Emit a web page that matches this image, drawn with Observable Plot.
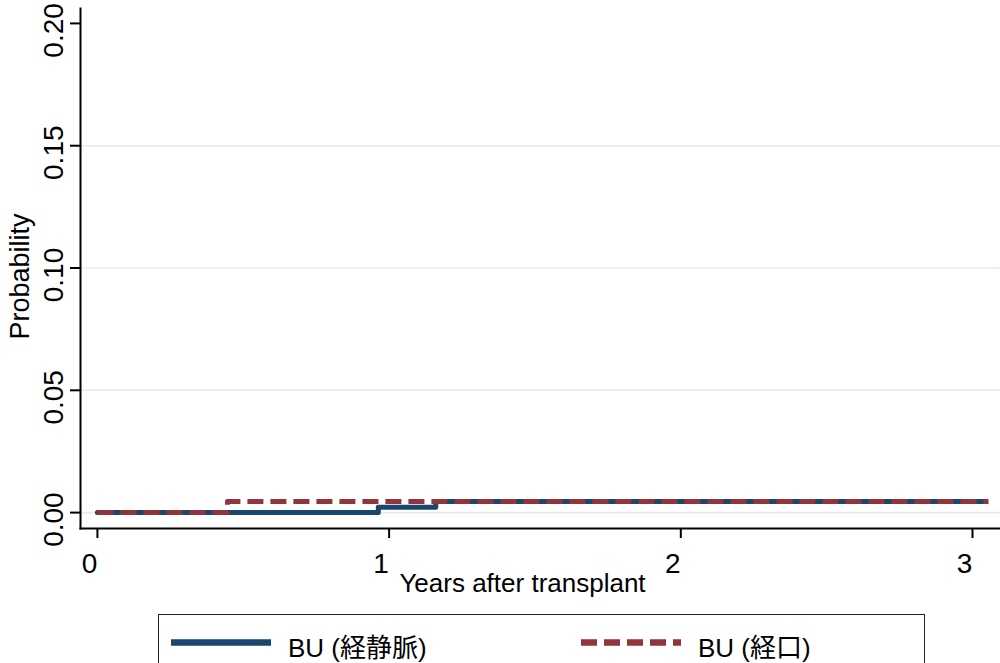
<!DOCTYPE html>
<html>
<head>
<meta charset="utf-8">
<script src="https://cdn.jsdelivr.net/npm/d3@7"></script>
<script src="https://cdn.jsdelivr.net/npm/@observablehq/plot@0.6"></script>
<style>
  html, body { margin: 0; padding: 0; background: #fff; overflow: hidden; }
  #wrap { position: relative; width: 1000px; height: 663px; font-family: "Liberation Sans", Arial, "Noto Sans CJK JP", sans-serif; }
  #chart svg { display: block; }
  #legend { position: absolute; left: 158px; top: 614px; width: 767px; height: 70px; border: 1.5px solid #222; box-sizing: border-box; background: #fff; }
  .item { position: absolute; top: 0; height: 60px; }
  .item svg { position: absolute; top: 24px; }
  .item span { position: absolute; top: 12px; font-size: 26px; white-space: nowrap; color: #000; font-family: "Liberation Sans", Arial, "Noto Sans CJK JP", sans-serif; }
</style>
</head>
<body>
<div id="wrap">
  <div id="chart"></div>
  <div id="legend"></div>
</div>
<script>
// ---- data ----
const seriesNames = ["BU (経静脈)", "BU (経口)"];
const seriesColors = ["#1a476f", "#90353b"];
const ivTime = [0, 0.963, 1.16, 3.04];
const ivProb = [0, 0.0022, 0.0045, 0.0045];
const oralTime = [0, 0.446, 3.055];
const oralProb = [0, 0.0045, 0.0045];
const xTicks = [0, 1, 2, 3];
const yTicks = [0, 0.05, 0.10, 0.15, 0.20];
const yGrid = [0, 0.05, 0.10, 0.15];
const xTitle = "Years after transplant";
const yTitle = "Probability";

const iv = ivTime.map((t, i) => ({t, p: ivProb[i]}));
const oral = oralTime.map((t, i) => ({t, p: oralProb[i]}));

const font = `"Liberation Sans", Arial, "Noto Sans CJK JP", sans-serif`;

const chart = Plot.plot({
  width: 1000,
  height: 600,
  marginLeft: 80,
  marginRight: 0,
  marginTop: 8,
  marginBottom: 72,
  style: {fontFamily: font, background: "#fff", color: "#000"},
  x: {domain: [-0.058, 3.096], axis: null},
  y: {domain: [-0.0065, 0.2061], axis: null},
  marks: [
    Plot.ruleY(yGrid, {stroke: "#e4ebee", strokeWidth: 1.6}),
    Plot.axisY({ticks: yTicks, tickSize: 10, tickFormat: () => "", strokeWidth: 2, label: null}),
    Plot.axisX({ticks: xTicks, tickSize: 10, tickFormat: () => "", strokeWidth: 2, label: null}),
    Plot.text(yTicks, {y: d => d, frameAnchor: "left", text: d => d3.format(".2f")(d), rotate: -90, textAnchor: "middle", lineAnchor: "bottom", dx: -18, dy: 7, fontSize: 28, fill: "#000"}),
    Plot.text(xTicks, {x: d => d, frameAnchor: "bottom", text: d => String(d), textAnchor: "middle", lineAnchor: "bottom", dx: -8, dy: 44, fontSize: 28, fill: "#000"}),
    Plot.text([yTitle], {frameAnchor: "left", text: d => d, rotate: -90, textAnchor: "middle", lineAnchor: "bottom", dx: -52, dy: 8, fontSize: 27, fill: "#000"}),
    Plot.text([xTitle], {frameAnchor: "bottom", text: d => d, textAnchor: "middle", lineAnchor: "bottom", dx: -18, dy: 63, fontSize: 26, fill: "#000"}),
    Plot.frame({anchor: "left", stroke: "#000", strokeWidth: 2}),
    Plot.frame({anchor: "bottom", stroke: "#000", strokeWidth: 2}),
    Plot.line(iv, {x: "t", y: "p", curve: "step-after", stroke: seriesColors[0], strokeWidth: 5, strokeLinejoin: "round", strokeLinecap: "round"}),
    Plot.line(oral, {x: "t", y: "p", curve: "step-after", stroke: seriesColors[1], strokeWidth: 5, strokeDasharray: "16,7", strokeLinecap: "butt"})
  ]
});
document.getElementById("chart").appendChild(chart);

// legend
const legend = document.getElementById("legend");
const items = [
  {left: 12, dash: null},
  {left: 422, dash: "16,7"}
];
seriesNames.forEach((name, i) => {
  const it = document.createElement("div");
  it.className = "item";
  it.style.left = items[i].left + "px";
  const ns = "http://www.w3.org/2000/svg";
  const s = document.createElementNS(ns, "svg");
  s.setAttribute("width", 100); s.setAttribute("height", 7);
  const l = document.createElementNS(ns, "line");
  l.setAttribute("x1", 0); l.setAttribute("x2", 100);
  l.setAttribute("y1", 3.5); l.setAttribute("y2", 3.5);
  l.setAttribute("stroke", seriesColors[i]);
  l.setAttribute("stroke-width", 6.5);
  if (items[i].dash) l.setAttribute("stroke-dasharray", items[i].dash);
  s.appendChild(l);
  it.appendChild(s);
  const sp = document.createElement("span");
  sp.style.left = "117px";
  sp.textContent = name;
  it.appendChild(sp);
  legend.appendChild(it);
});
</script>
</body>
</html>
